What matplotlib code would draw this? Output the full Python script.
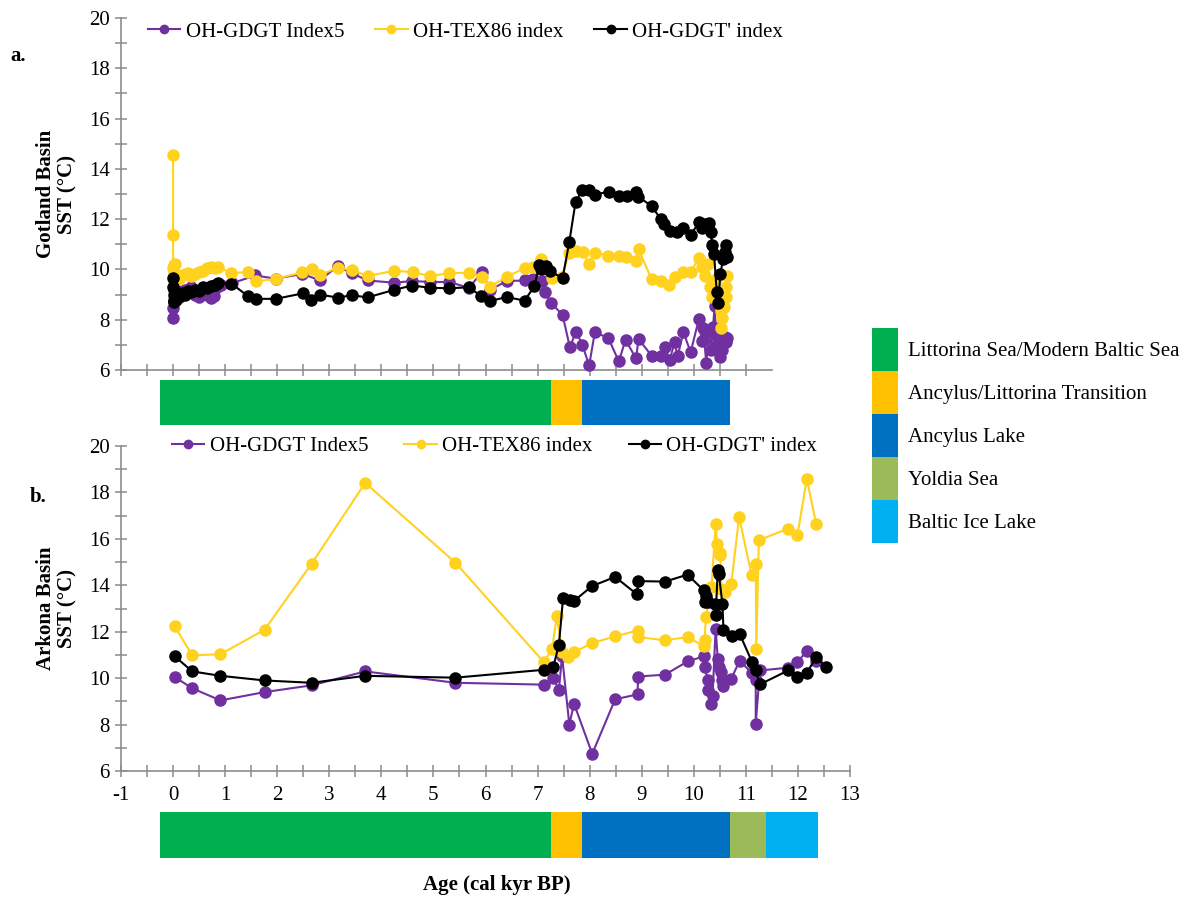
import matplotlib
matplotlib.use("Agg")
import matplotlib.pyplot as plt
from matplotlib.lines import Line2D
from matplotlib.patches import Patch
from matplotlib.ticker import FuncFormatter

plt.rcParams['font.family'] = ['Liberation Serif', 'DejaVu Serif']

# ---------------- Gotland Basin (panel a) ----------------
got_idx5_age = [0.00, 0.00, 0.01, 0.02, 0.03, 0.05, 0.08, 0.12, 0.17, 0.22, 0.28, 0.35, 0.42, 0.50,
                0.58, 0.65, 0.72, 0.78, 0.85, 0.92, 1.13, 1.58, 1.97, 2.48, 2.82, 3.16, 3.43, 3.74,
                4.25, 4.59, 4.94, 5.30, 5.68, 5.93, 6.09, 6.41, 6.75, 6.92, 7.08, 7.15, 7.26, 7.48,
                7.62, 7.74, 7.86, 7.99, 8.10, 8.36, 8.56, 8.69, 8.89, 8.94, 9.19, 9.37, 9.45, 9.54,
                9.63, 9.69, 9.80, 9.94, 10.10, 10.15, 10.18, 10.24, 10.29, 10.33, 10.37, 10.40, 10.44,
                10.46, 10.50, 10.53, 10.55, 10.59, 10.62, 10.64]
got_idx5_sst = [8.05, 8.45, 9.20, 8.80, 9.00, 9.20, 8.90, 9.10, 9.00, 9.20, 9.10, 9.30, 9.00, 8.90,
                9.20, 9.00, 8.85, 8.95, 9.30, 9.40, 9.45, 9.76, 9.63, 9.82, 9.57, 10.13, 9.85, 9.56,
                9.47, 9.54, 9.50, 9.50, 9.27, 9.88, 9.19, 9.54, 9.56, 9.61, 9.52, 9.10, 8.67, 8.19,
                6.91, 7.53, 7.00, 6.18, 7.50, 7.27, 6.34, 7.20, 6.46, 7.23, 6.57, 6.55, 6.90, 6.41,
                7.10, 6.55, 7.50, 6.71, 8.04, 7.17, 7.67, 6.28, 7.50, 6.80, 7.70, 8.56, 7.00,
                7.30, 6.50, 6.90, 6.80, 7.30, 7.10, 7.27]

got_tex_age = [0.00, 0.00, 0.00, 0.01, 0.02, 0.04, 0.07, 0.11, 0.16, 0.22, 0.28, 0.35, 0.42, 0.50,
               0.58, 0.65, 0.72, 0.80, 0.87, 1.12, 1.44, 1.60, 1.97, 2.48, 2.66, 2.83, 3.16, 3.43,
               3.74, 4.25, 4.61, 4.94, 5.30, 5.68, 5.93, 6.09, 6.41, 6.75, 6.92, 7.07, 7.15, 7.28,
               7.47, 7.60, 7.73, 7.87, 7.99, 8.10, 8.36, 8.56, 8.69, 8.89, 8.94, 9.19, 9.37, 9.53,
               9.63, 9.79, 9.94, 10.10, 10.15, 10.22, 10.27, 10.31, 10.35, 10.43, 10.50, 10.53,
               10.55, 10.53, 10.58, 10.61, 10.62, 10.64]
got_tex_sst = [14.55, 11.37, 10.05, 10.18, 9.90, 10.20, 9.70, 9.60, 9.75, 9.80, 9.85, 9.72, 9.80, 9.90,
               9.95, 10.05, 10.10, 10.05, 10.10, 9.85, 9.90, 9.53, 9.62, 9.88, 10.00, 9.78, 10.07, 9.98,
               9.74, 9.95, 9.89, 9.74, 9.85, 9.87, 9.71, 9.32, 9.71, 10.05, 10.10, 10.42, 10.10, 9.65,
               9.70, 10.64, 10.73, 10.71, 10.20, 10.67, 10.55, 10.55, 10.50, 10.34, 10.80, 9.61, 9.52, 9.38,
               9.70, 9.88, 9.88, 10.47, 10.10, 9.73, 10.20, 9.32, 8.92, 9.60, 8.66, 8.33,
               8.07, 7.67, 8.50, 9.30, 8.90, 9.73]

got_gdgt_age = [0.00, 0.00, 0.01, 0.01, 0.02, 0.03, 0.05, 0.08, 0.12, 0.17, 0.22, 0.28, 0.35, 0.42,
                0.50, 0.58, 0.65, 0.72, 0.80, 0.87, 1.12, 1.43, 1.60, 1.97, 2.50, 2.65, 2.82, 3.16,
                3.43, 3.74, 4.25, 4.59, 4.94, 5.30, 5.68, 5.91, 6.09, 6.41, 6.75, 6.94, 7.03, 7.07,
                7.16, 7.23, 7.48, 7.61, 7.73, 7.86, 7.99, 8.10, 8.37, 8.56, 8.71, 8.89, 8.93, 9.19,
                9.37, 9.42, 9.54, 9.67, 9.80, 9.94, 10.10, 10.15, 10.22, 10.30, 10.33, 10.35, 10.39,
                10.44, 10.47, 10.51, 10.56, 10.59, 10.62, 10.64]
got_gdgt_sst = [9.65, 9.30, 8.75, 9.00, 8.70, 8.90, 8.80, 9.00, 8.90, 9.05, 9.00, 9.15, 9.10, 9.20,
                9.15, 9.30, 9.25, 9.35, 9.40, 9.45, 9.44, 8.95, 8.83, 8.83, 9.05, 8.78, 9.00, 8.88,
                8.97, 8.89, 9.19, 9.36, 9.27, 9.25, 9.29, 8.95, 8.75, 8.90, 8.76, 9.33, 10.16, 10.00,
                10.14, 9.95, 9.65, 11.10, 12.69, 13.15, 13.15, 12.98, 13.09, 12.92, 12.92, 13.06, 12.90, 12.52,
                11.99, 11.80, 11.54, 11.50, 11.66, 11.37, 11.87, 11.63, 11.80, 11.85, 11.50, 10.97, 10.60,
                9.12, 8.66, 9.80, 10.40, 10.70, 10.97, 10.50]

# ---------------- Arkona Basin (panel b) ----------------
ark_idx5_age = [0.03, 0.37, 0.91, 1.76, 2.66, 3.69, 5.42, 7.12, 7.30, 7.41, 7.47, 7.61, 7.70, 8.05,
                8.49, 8.92, 8.93, 9.45, 9.88, 10.19, 10.21, 10.27, 10.28, 10.34, 10.36, 10.42, 10.46,
                10.49, 10.53, 10.55, 10.57, 10.72, 10.88, 11.12, 11.19, 11.19, 11.27, 11.81, 11.99,
                12.17, 12.35]
ark_idx5_sst = [10.05, 9.56, 9.04, 9.40, 9.69, 10.29, 9.80, 9.72, 10.00, 9.50, 10.95, 8.00, 8.90, 6.74,
                9.09, 9.30, 10.07, 10.15, 10.72, 10.94, 10.50, 9.90, 9.50, 8.90, 9.22, 12.13, 10.84,
                10.50, 10.25, 9.90, 9.65, 9.98, 10.74, 10.22, 9.90, 8.04, 10.33, 10.45, 10.69,
                11.17, 10.76]

ark_tex_age = [0.03, 0.37, 0.91, 1.76, 2.66, 3.69, 5.42, 7.12, 7.28, 7.37, 7.47, 7.59, 7.70, 8.05,
               8.49, 8.92, 8.93, 9.45, 9.88, 10.20, 10.21, 10.23, 10.34, 10.42, 10.45, 10.50, 10.51,
               10.53, 10.59, 10.72, 10.87, 11.11, 11.19, 11.20, 11.25, 11.81, 11.99, 12.17, 12.35]
ark_tex_sst = [12.23, 10.98, 11.03, 12.09, 14.93, 18.41, 14.98, 10.69, 11.27, 12.66, 11.12, 10.91, 11.12, 11.51,
               11.80, 12.05, 11.77, 11.63, 11.77, 11.37, 11.63, 12.63, 13.92, 16.65, 15.76, 15.40, 15.30,
               13.85, 13.70, 14.07, 16.94, 14.43, 14.90, 11.27, 15.94, 16.44, 16.15, 18.59, 16.65]

ark_gdgt_age = [0.03, 0.37, 0.91, 1.76, 2.66, 3.69, 5.42, 7.12, 7.30, 7.41, 7.49, 7.62, 7.70, 8.05,
                8.49, 8.91, 8.93, 9.45, 9.88, 10.19, 10.21, 10.23, 10.27, 10.40, 10.42, 10.46, 10.48,
                10.55, 10.57, 10.74, 10.88, 11.12, 11.19, 11.27, 11.81, 11.99, 12.17, 12.35, 12.54]
ark_gdgt_sst = [10.94, 10.29, 10.10, 9.90, 9.80, 10.10, 10.02, 10.36, 10.47, 11.44, 13.47, 13.38, 13.33, 13.97,
                14.36, 13.61, 14.18, 14.16, 14.46, 13.78, 13.30, 13.56, 13.30, 13.20, 12.70, 14.64, 14.50,
                13.20, 12.09, 11.80, 11.91, 10.69, 10.33, 9.73, 10.33, 10.07, 10.23, 10.90, 10.47]

# ---------------- Basin stages (kyr BP) ----------------
stage_names = ["Littorina Sea/Modern Baltic Sea", "Ancylus/Littorina Transition",
               "Ancylus Lake", "Yoldia Sea", "Baltic Ice Lake"]
stage_colors = ["#00B050", "#FFC000", "#0070C0", "#9BBB59", "#00B0F0"]
stage_start = [-0.25, 7.26, 7.86, 10.69, 11.39]
stage_end = [7.26, 7.86, 10.69, 11.39, 12.39]
got_stage_count = 3  # Gotland core spans only the first three stages

series_names = ["OH-GDGT Index5", "OH-TEX86 index", "OH-GDGT' index"]
series_colors = ["#7030A0", "#FFD21F", "#000000"]

W, H = 1188, 899
fig = plt.figure(figsize=(W / 100, H / 100), dpi=100)

px_per_kyr = (850 - 121) / 14.0
def fx(px):
    return px / W
def fy(py):
    return 1 - py / H

x0 = 121
top_xmax = 11.5
ax_a = fig.add_axes([fx(x0), fy(370), (top_xmax + 1) * px_per_kyr / W, (370 - 18) / H])
ax_b = fig.add_axes([fx(x0), fy(771), 14 * px_per_kyr / W, (771 - 446) / H])
bar_a = fig.add_axes([fx(x0), fy(425), 14 * px_per_kyr / W, 45 / H])
bar_b = fig.add_axes([fx(x0), fy(858), 14 * px_per_kyr / W, 46 / H])

axis_grey = "#8C8C8C"
lw_line = 1.5
ms = 8

def style_axis(ax, xmax, show_xlabels):
    ax.set_xlim(-1, xmax)
    ax.set_ylim(6, 20)
    for s in ["top", "right"]:
        ax.spines[s].set_visible(False)
    for s in ["left", "bottom"]:
        ax.spines[s].set_color(axis_grey)
        ax.spines[s].set_linewidth(1.2)
    ax.set_yticks(range(6, 21, 2))
    ax.set_yticks(range(7, 20, 2), minor=True)
    ax.set_xticks(range(-1, int(xmax) + 1))
    ax.set_xticks([v + 0.5 for v in range(-1, int(xmax))], minor=True)
    ax.xaxis.set_major_formatter(FuncFormatter(lambda v, p: "%d" % v))
    ax.tick_params(which="both", direction="inout", length=8, width=1.1, color=axis_grey,
                   labelsize=15, pad=4)
    if not show_xlabels:
        ax.tick_params(axis="x", which="both", labelbottom=False)
    else:
        ax.tick_params(axis="x", pad=7)
    ax.patch.set_alpha(0)

def draw(ax, data):
    for (ages, vals), name, col in zip(data, series_names, series_colors):
        ax.plot(ages, vals, "-o", color=col, lw=lw_line, ms=ms, label=name, clip_on=False, zorder=3)

draw(ax_a, [(got_idx5_age, got_idx5_sst), (got_tex_age, got_tex_sst), (got_gdgt_age, got_gdgt_sst)])
draw(ax_b, [(ark_idx5_age, ark_idx5_sst), (ark_tex_age, ark_tex_sst), (ark_gdgt_age, ark_gdgt_sst)])
style_axis(ax_a, top_xmax, False)
style_axis(ax_b, 13, True)

def series_legend(ax, anchor, colspace):
    handles = [Line2D([0], [0], color=c, lw=lw_line, marker="o", ms=6) for c in series_colors]
    ax.legend(handles, series_names, loc="center left", bbox_to_anchor=anchor,
              bbox_transform=fig.transFigure, ncol=3, frameon=False, fontsize=15,
              handlelength=1.55, handletextpad=0.25, columnspacing=colspace, borderpad=0, borderaxespad=0)

series_legend(ax_a, (fx(148), fy(32)), 1.5)
series_legend(ax_b, (fx(172), fy(446)), 1.75)

# Stage bars
def stage_bar(ax, n):
    for i in range(n):
        ax.barh(0, stage_end[i] - stage_start[i], left=stage_start[i], height=1,
                color=stage_colors[i], edgecolor="none")
    ax.set_xlim(-1, 13)
    ax.set_ylim(-0.5, 0.5)
    ax.axis("off")

stage_bar(bar_a, got_stage_count)
stage_bar(bar_b, len(stage_names))

ax_a.set_ylabel("Gotland Basin\nSST (°C)", fontsize=15, fontweight="bold", labelpad=8, linespacing=1.15)
ax_b.set_ylabel("Arkona Basin\nSST (°C)", fontsize=15, fontweight="bold", labelpad=8, linespacing=1.15)
fig.text(fx(10), fy(56), "a.", fontsize=15, fontweight="bold", va="center")
fig.text(fx(30), fy(497), "b.", fontsize=15, fontweight="bold", va="center")
fig.text(fx(497), fy(885), "Age (cal kyr BP)", fontsize=15, fontweight="bold", ha="center", va="center")

# Stage legend on the right
stage_handles = [Patch(facecolor=c, edgecolor="none") for c in stage_colors]
fig.legend(stage_handles, stage_names, loc="upper left", bbox_to_anchor=(fx(872), fy(328)),
           frameon=False, fontsize=15, handlelength=1.25, handleheight=2.8, handletextpad=0.5,
           labelspacing=0.0, borderpad=0, borderaxespad=0)

fig.savefig("out.png", dpi=100)
